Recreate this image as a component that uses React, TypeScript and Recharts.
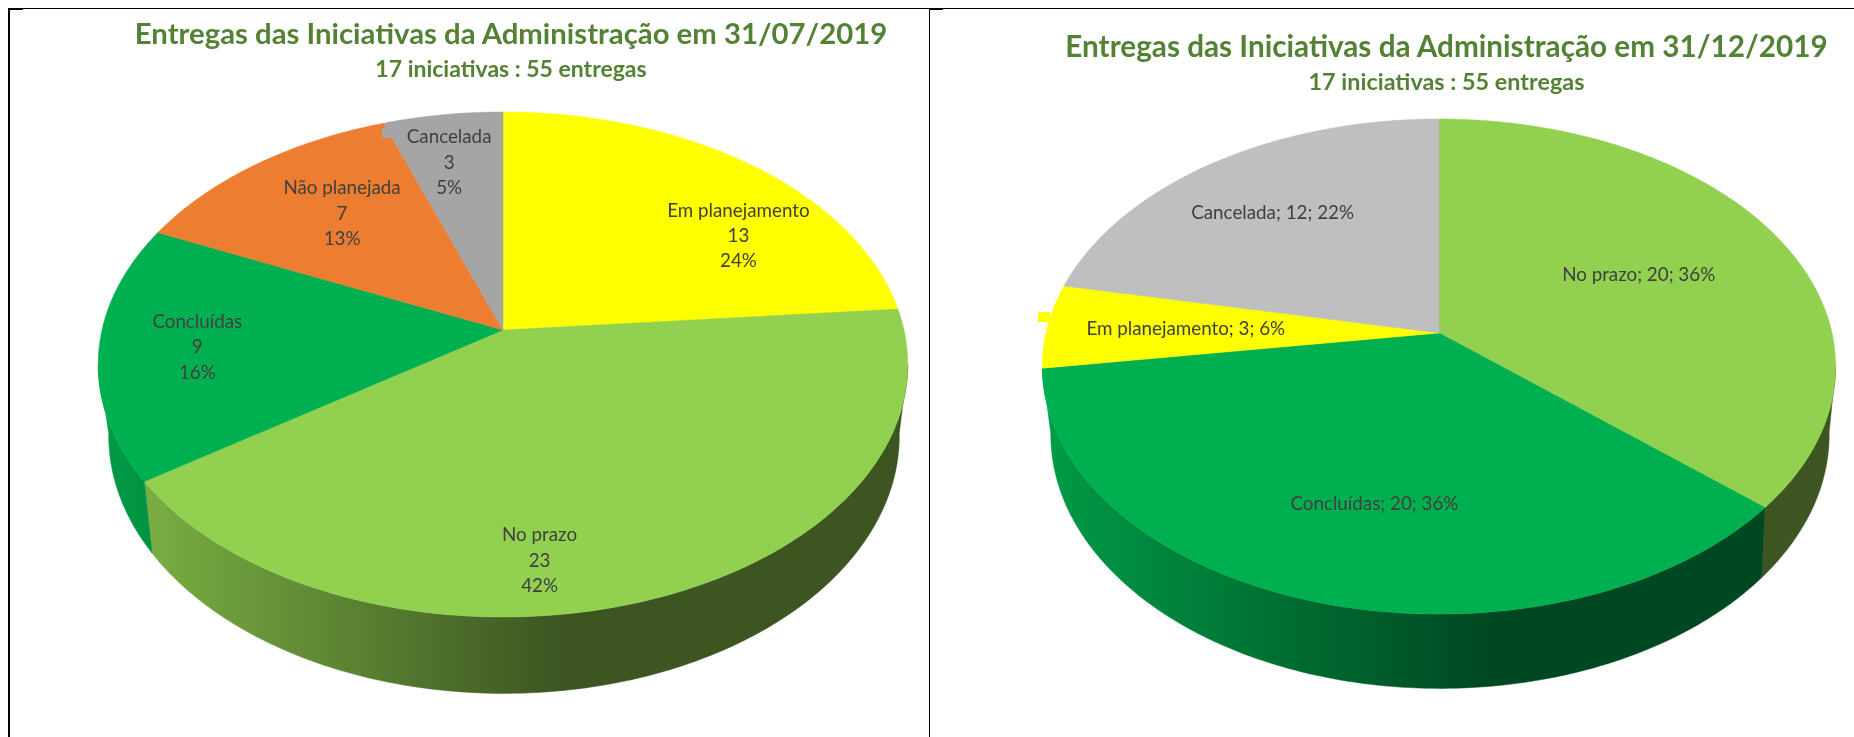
import React from "react";
import { PieChart, Pie } from "recharts";

const leftNames = ["Em planejamento", "No prazo", "Concluídas", "Não planejada", "Cancelada"];
const leftValues = [13, 23, 9, 7, 3];
const leftPercents = ["24%", "42%", "16%", "13%", "5%"];
const leftColors = ["#FFFF00", "#92D050", "#00B050", "#ED7D31", "#A5A5A5"];

const rightNames = ["No prazo", "Concluídas", "Em planejamento", "Cancelada"];
const rightValues = [20, 20, 3, 12];
const rightPercents = ["36%", "36%", "6%", "22%"];
const rightColors = ["#92D050", "#00B050", "#FFFF00", "#BFBFBF"];

const leftNudge = [[70, 16], [-59, 63.5], [-44, 2], [4.5, -6.5], [-13, -23]];
const rightNudge = [[-24.5, 4], [14, 4], [1.5, -1.5], [-15, -7]];

type View = { ry: number; p: number; drop: number; rx2: number; ry2: number; p2: number; shift: number; darkAt: number };
const leftView: View = { ry: 247.8, p: 0.1366, drop: 68, rx2: 391, ry2: 252, p2: 0.147, shift: 1, darkAt: 60 };
const rightView: View = { ry: 243, p: 0.1354, drop: 65, rx2: 385, ry2: 248, p2: 0.146, shift: 1, darkAt: 50 };

const toXY = (cx: number, cy: number, rx: number, ry: number, p: number, deg: number, f = 1) => {
  const t = (deg * Math.PI) / 180;
  const u = f * Math.cos(t);
  const v = -f * Math.sin(t);
  const d = 1 - p * v;
  return [cx + (rx * u) / d, cy + (ry * v) / d];
};

const arc = (a: number, b: number) => {
  const n = Math.max(2, Math.ceil(Math.abs(b - a)));
  return Array.from({ length: n + 1 }, (_, i) => a + ((b - a) * i) / n);
};

const shade = (hex: string, k: number) => {
  const c = [1, 3, 5].map((i) => Math.round(parseInt(hex.slice(i, i + 2), 16) * k));
  return `rgb(${c[0]},${c[1]},${c[2]})`;
};

const pathOf = (pts: number[][]) =>
  "M" + pts.map((q) => `${q[0].toFixed(2)},${q[1].toFixed(2)}`).join("L") + "Z";

const topShape = (view: View) => (props: any) => {
  const { cx, cy, outerRadius, startAngle, endAngle, fill } = props;
  const pts = [[cx, cy], ...arc(startAngle, endAngle).map((d) => toXY(cx, cy, outerRadius, view.ry, view.p, d))];
  return <path d={pathOf(pts)} fill={fill} stroke={fill} strokeWidth={0.5} />;
};

const wallShape = (view: View, id: string) => (props: any) => {
  const { cx, cy, outerRadius, startAngle, endAngle, fill, index } = props;
  // Only the front-facing part of the rim has a visible wall.
  const edge = (Math.asin(view.p) * 180) / Math.PI;
  const from = Math.min(startAngle, -edge);
  const to = Math.max(endAngle, -180 + edge);
  if (from - to < 1.5) return <g />;
  const angles = arc(from, to);
  const upper = angles.map((d) => toXY(cx, cy, outerRadius, view.ry, view.p, d));
  const lower = angles
    .slice()
    .reverse()
    .map((d) => toXY(cx + view.shift, cy + view.drop, view.rx2, view.ry2, view.p2, d));
  const gid = `${id}-wall-${index}`;
  return (
    <g>
      <defs>
        <linearGradient id={gid} gradientUnits="userSpaceOnUse" x1={cx - outerRadius} y1={0} x2={cx + view.darkAt} y2={0}>
          <stop offset="0" stopColor={shade(fill, 0.88)} />
          <stop offset="1" stopColor={shade(fill, 0.41)} />
        </linearGradient>
      </defs>
      <path d={pathOf([...upper, ...lower])} fill={`url(#${gid})`} stroke={`url(#${gid})`} strokeWidth={0.5} />
    </g>
  );
};

const labelOf = (view: View, nudge: number[][], lines: (i: number) => string[]) => (props: any) => {
  const { cx, cy, outerRadius, midAngle, index } = props;
  const [x, y] = toXY(cx, cy, outerRadius, view.ry, view.p, midAngle, 0.65);
  const text = lines(index);
  const px = x + nudge[index][0];
  const py = y + nudge[index][1];
  return (
    <text x={px} y={py} textAnchor="middle" fill="#404040" fontFamily="Lato" fontSize={18.8} style={{ filter: "blur(0.5px)" }}>
      {text.map((t, i) => (
        <tspan key={i} x={px} y={py + (i - (text.length - 1) / 2) * 25.2} dominantBaseline="central">
          {t}
        </tspan>
      ))}
    </text>
  );
};

const leftData = leftNames.map((name, i) => ({ name, value: leftValues[i], fill: leftColors[i] }));
const rightData = rightNames.map((name, i) => ({ name, value: rightValues[i], fill: rightColors[i] }));

const Abs = ({ s }: { s: React.CSSProperties }) => <div style={{ position: "absolute", ...s }} />;

const Heading = ({ text, cx, cy, size }: { text: string; cx: number; cy: number; size: number }) => (
  <div
    style={{
      position: "absolute",
      left: cx - 500,
      width: 1000,
      top: cy - 30,
      height: 60,
      lineHeight: "60px",
      textAlign: "center",
      whiteSpace: "nowrap",
      fontFamily: "Lato",
      fontWeight: 700,
      fontSize: size,
      color: "#548235",
      filter: "blur(0.5px)",
    }}
  >
    {text}
  </div>
);

export default function App() {
  return (
    <div style={{ position: "absolute", left: 0, top: 0, width: 1854, height: 737, background: "#fff", overflow: "hidden" }}>
      <div style={{ position: "absolute", left: 0, top: 0 }}>
        <PieChart width={927} height={737} margin={{ top: 0, right: 0, bottom: 0, left: 0 }}>
          <Pie data={leftData} dataKey="value" nameKey="name" cx={503} cy={330} outerRadius={401} startAngle={90} endAngle={-270}
            isAnimationActive={false} label={false} labelLine={false} shape={wallShape(leftView, "l")} stroke="none" />
          <Pie data={leftData} dataKey="value" nameKey="name" cx={503} cy={330} outerRadius={401} startAngle={90} endAngle={-270}
            isAnimationActive={false} labelLine={false} shape={topShape(leftView)} stroke="none"
            label={labelOf(leftView, leftNudge, (i) => [leftNames[i], String(leftValues[i]), leftPercents[i]])} />
        </PieChart>
      </div>
      <div style={{ position: "absolute", left: 927, top: 0 }}>
        <PieChart width={927} height={737} margin={{ top: 0, right: 0, bottom: 0, left: 0 }}>
          <Pie data={rightData} dataKey="value" nameKey="name" cx={512} cy={333} outerRadius={393} startAngle={90} endAngle={-270}
            isAnimationActive={false} label={false} labelLine={false} shape={wallShape(rightView, "r")} stroke="none" />
          <Pie data={rightData} dataKey="value" nameKey="name" cx={512} cy={333} outerRadius={393} startAngle={90} endAngle={-270}
            isAnimationActive={false} labelLine={false} shape={topShape(rightView)} stroke="none"
            label={labelOf(rightView, rightNudge, (i) => [`${rightNames[i]}; ${rightValues[i]}; ${rightPercents[i]}`])} />
        </PieChart>
      </div>
      <Heading text="Entregas das Iniciativas da Administração em 31/07/2019" cx={511} cy={33} size={29.3} />
      <Heading text="17 iniciativas : 55 entregas" cx={511} cy={68} size={23} />
      <Heading text="Entregas das Iniciativas da Administração em 31/12/2019" cx={1446.5} cy={46} size={29.7} />
      <Heading text="17 iniciativas : 55 entregas" cx={1446.5} cy={81} size={23.4} />
      <Abs s={{ left: 382, top: 128, width: 12, height: 10, background: "#A5A5A5" }} />
      <Abs s={{ left: 1038, top: 312, width: 12, height: 10, background: "#FFFF00" }} />
      <Abs s={{ left: 8, top: 8, width: 1846, height: 1, background: "#000" }} />
      <Abs s={{ left: 8, top: 8, width: 15, height: 2, background: "#000" }} />
      <Abs s={{ left: 8, top: 8, width: 2, height: 729, background: "#000" }} />
      <Abs s={{ left: 929, top: 8, width: 14, height: 2, background: "#000" }} />
      <Abs s={{ left: 929, top: 8, width: 1, height: 729, background: "#000" }} />
    </div>
  );
}
